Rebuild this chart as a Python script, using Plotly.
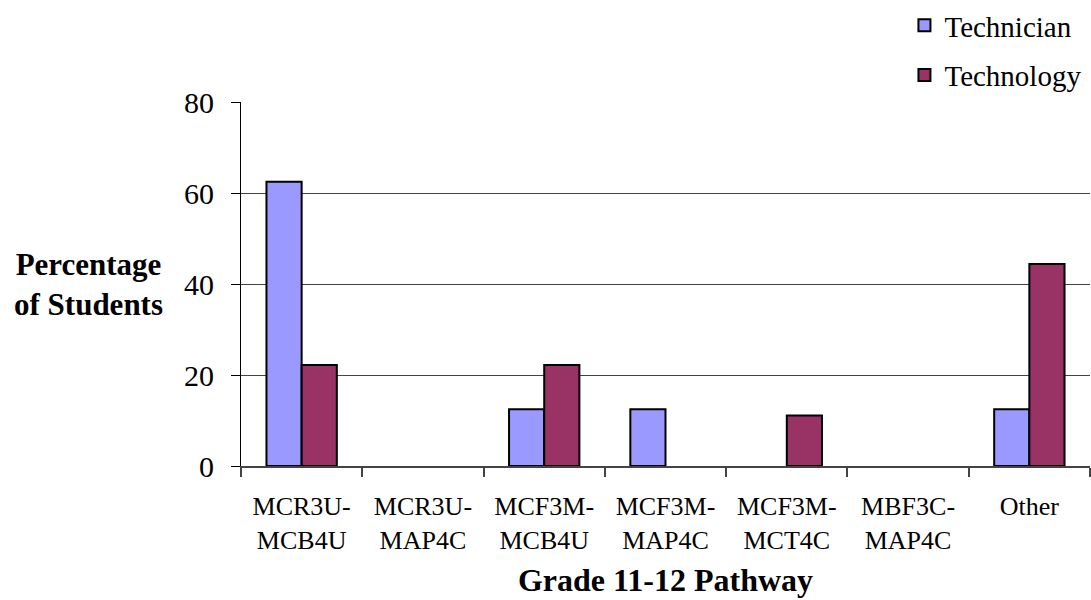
import plotly.graph_objects as go

categories = ["MCR3U-<br>MCB4U", "MCR3U-<br>MAP4C", "MCF3M-<br>MCB4U", "MCF3M-<br>MAP4C",
              "MCF3M-<br>MCT4C", "MBF3C-<br>MAP4C", "Other"]
technician = [62.5, 0, 12.5, 12.5, 0, 0, 12.5]
technology = [22.2, 0, 22.2, 0, 11.1, 0, 44.4]
y_ticks = [0, 20, 40, 60, 80]

FONT = '"Liberation Serif", "Times New Roman", serif'


def nz(vals):
    # zero-height bars are not drawn in the reference
    return [v if v else None for v in vals]


fig = go.Figure()
fig.add_trace(go.Bar(x=categories, y=nz(technician), name="Technician", legendgroup="a",
                     marker=dict(color="#9999FF", line=dict(color="black", width=2))))
fig.add_trace(go.Bar(x=categories, y=nz(technology), name="Technology", legendgroup="b",
                     marker=dict(color="#993366", line=dict(color="black", width=2))))

fig.update_layout(
    width=1091, height=600,
    margin=dict(l=241, r=1, t=102, b=134, autoexpand=False),
    paper_bgcolor="white", plot_bgcolor="white",
    font=dict(family=FONT, color="black"),
    barmode="group", bargap=0.42, bargroupgap=0,
    showlegend=True,
    legend=dict(xref="container", yref="container", x=0.829, xanchor="left",
                y=1.0, yanchor="top", bgcolor="rgba(0,0,0,0)",
                font=dict(size=29, family=FONT), tracegroupgap=9, itemwidth=30),
    xaxis=dict(showline=True, linecolor="#444", linewidth=2, ticks="outside", tickson="boundaries",
               ticklen=9, tickcolor="#444", tickwidth=1.5, tickfont=dict(size=26, family=FONT),
               ticklabelstandoff=16, showgrid=False,
               title=dict(text="<b>Grade 11-12 Pathway</b>", font=dict(size=32, family=FONT), standoff=15)),
    yaxis=dict(range=[0, 80], tickvals=y_ticks, showline=True, linecolor="black", linewidth=1,
               ticks="outside", ticklen=9, tickcolor="black", tickfont=dict(size=30, family=FONT),
               ticklabelstandoff=11,
               showgrid=True, gridcolor="#444", gridwidth=1, zeroline=False),
)
fig.add_annotation(text="<b>Percentage<br>of Students</b>", xref="paper", yref="paper",
                   x=-0.0895, y=0.5, xanchor="right", yanchor="middle", showarrow=False,
                   align="center", font=dict(size=31, family=FONT))
fig.write_html("out.html", post_script="document.body.style.margin='0';",
               config={"displayModeBar": False})
